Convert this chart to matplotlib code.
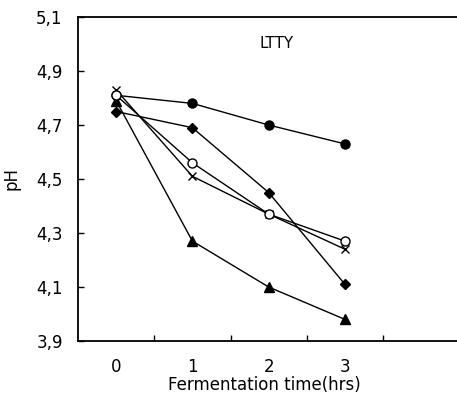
import matplotlib
matplotlib.use("Agg")
import matplotlib.pyplot as plt

plt.rcParams['font.family'] = ['DejaVu Sans']

times = ["0", "1", "2", "3"]
y_ticks = [3.9, 4.1, 4.3, 4.5, 4.7, 4.9, 5.1]
y_tick_labels = ["3,9", "4,1", "4,3", "4,5", "4,7", "4,9", "5,1"]

s_filled_circle = [4.81, 4.78, 4.70, 4.63]
s_diamond = [4.75, 4.69, 4.45, 4.11]
s_open_circle = [4.81, 4.56, 4.37, 4.27]
s_cross = [4.83, 4.51, 4.37, 4.24]
s_triangle = [4.79, 4.27, 4.10, 3.98]

fig = plt.figure(figsize=(4.57, 4.05), dpi=100)
ax = fig.add_axes([78/457, 1-341/405, 1-78/457+0.005, (341-17)/405])

x = list(range(len(times)))
ax.plot(x, s_filled_circle, color='black', lw=1.0, marker='o', ms=6.5, mfc='black', mec='black', zorder=3)
ax.plot(x, s_diamond, color='black', lw=1.0, marker='D', ms=5.5, mfc='black', mec='black', zorder=3)
ax.plot(x, s_open_circle, color='black', lw=1.0, marker='o', ms=6.5, mfc='white', mec='black', mew=1.0, zorder=4)
ax.plot(x, s_cross, color='black', lw=1.0, marker='x', ms=6, mec='black', mew=1.0, zorder=3)
ax.plot(x, s_triangle, color='black', lw=1.0, marker='^', ms=7, mfc='black', mec='black', zorder=3)

ax.set_xlim(-0.5, 4.5)
ax.set_ylim(3.9, 5.1)

ax.set_yticks(y_ticks)
ax.set_yticklabels(y_tick_labels)
ax.set_xticks([0.5, 1.5, 2.5, 3.5])
ax.set_xticklabels([])
ax.set_xticks(x, minor=True)
ax.set_xticklabels(times, minor=True)

ax.tick_params(axis='y', direction='in', length=4, width=1, pad=11, labelsize=12)
ax.tick_params(axis='x', which='major', direction='in', length=4, width=1)
ax.tick_params(axis='x', which='minor', length=0, pad=12, labelsize=12)

for side in ['left', 'top', 'bottom']:
    ax.spines[side].set_linewidth(1.3)
ax.spines['right'].set_visible(False)

ax.set_ylabel('pH', fontsize=12)
ax.yaxis.set_label_coords(-0.15, 0.5)
ax.set_xlabel('Fermentation time(hrs)', fontsize=12)
ax.xaxis.set_label_coords(0.49, -0.108)
ax.text(2.1, 5.0, 'LTTY', fontsize=11, ha='center', va='center')

fig.savefig('out.png', dpi=100)
